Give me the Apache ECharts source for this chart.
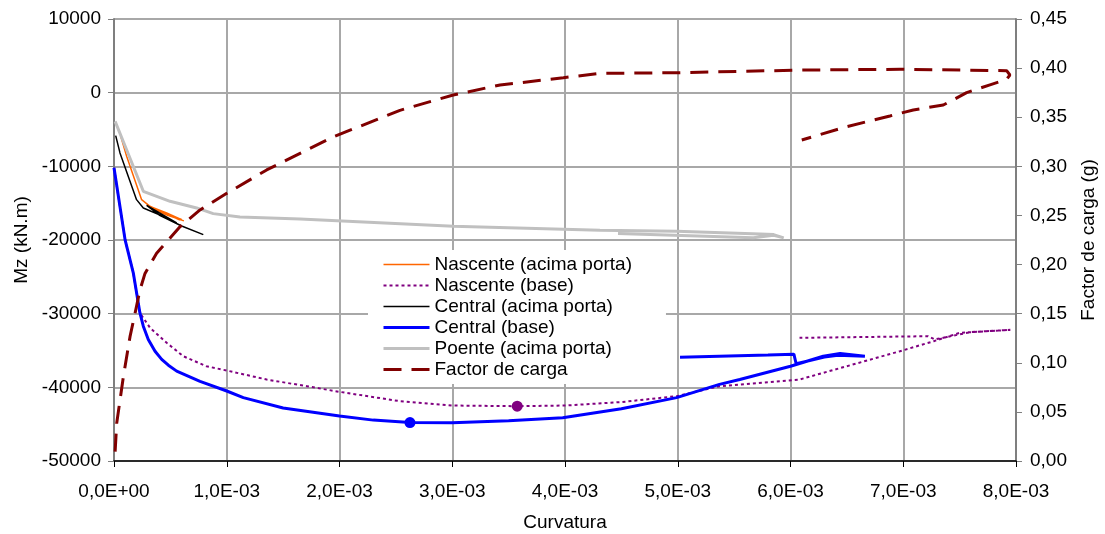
<!DOCTYPE html>
<html>
<head>
<meta charset="utf-8">
<script src="https://cdn.jsdelivr.net/npm/echarts@6/dist/echarts.min.js"></script>
<style>
  html, body { margin: 0; padding: 0; background: #fff; }
  #chart { width: 1105px; height: 534px; }
</style>
</head>
<body>
<div id="chart"></div>
<script>
// Tick labels
const xTickLabels = ['0,0E+00', '1,0E-03', '2,0E-03', '3,0E-03', '4,0E-03', '5,0E-03', '6,0E-03', '7,0E-03', '8,0E-03'];
const leftTickLabels = ['-50000', '-40000', '-30000', '-20000', '-10000', '0', '10000'];
const rightTickLabels = ['0,00', '0,05', '0,10', '0,15', '0,20', '0,25', '0,30', '0,35', '0,40', '0,45'];

// Curvatura / Mz pairs for each section
const nascenteAcima = [
  [0.06e-3, -5930], [0.112e-3, -8640], [0.245e-3, -14520], [0.319e-3, -15430],
  [0.467e-3, -16320], [0.60e-3, -17230], [0.58e-3, -17250], [0.51e-3, -16750],
  [0.29e-3, -15200], [0.33e-3, -15700], [0.47e-3, -16600], [0.62e-3, -17400]
];
const nascenteBase = [
  [0.0, -10200], [0.098e-3, -19950], [0.171e-3, -24460], [0.23e-3, -29900],
  [0.32e-3, -31930], [0.467e-3, -33960], [0.615e-3, -35780], [0.82e-3, -37140],
  [1.0e-3, -37720], [1.354e-3, -38940], [1.71e-3, -39850], [2.0e-3, -40610],
  [2.54e-3, -41890], [3.0e-3, -42470], [3.576e-3, -42560], [4.0e-3, -42470],
  [4.5e-3, -42000], [4.99e-3, -41200], [5.37e-3, -39850], [6.08e-3, -38940],
  [6.97e-3, -35100], [7.27e-3, -33740], [7.5e-3, -32600], [7.95e-3, -32200],
  [7.6e-3, -32500], [7.28e-3, -33500], [7.22e-3, -33060], [6.08e-3, -33280]
];
const centralAcima = [
  [0.015e-3, -5830], [0.053e-3, -8180], [0.20e-3, -14520], [0.26e-3, -15650],
  [0.467e-3, -17000], [0.556e-3, -17690], [0.40e-3, -16300], [0.29e-3, -15300],
  [0.40e-3, -16600], [0.60e-3, -18100], [0.792e-3, -19270]
];
const centralBase = [
  [0.0, -10200], [0.098e-3, -19950], [0.171e-3, -24460], [0.23e-3, -29900],
  [0.26e-3, -31700], [0.304e-3, -33500], [0.364e-3, -35100], [0.423e-3, -36200],
  [0.482e-3, -37000], [0.556e-3, -37800], [0.763e-3, -39200], [1.0e-3, -40500],
  [1.147e-3, -41400], [1.5e-3, -42800], [2.0e-3, -43900], [2.3e-3, -44450],
  [2.625e-3, -44780], [3.0e-3, -44800], [3.5e-3, -44550], [3.98e-3, -44140],
  [4.5e-3, -42900], [4.99e-3, -41400], [5.37e-3, -39600], [5.55e-3, -38940],
  [6.0e-3, -37140], [6.29e-3, -35780], [6.44e-3, -35420], [6.66e-3, -35780],
  [6.42e-3, -35650], [6.3e-3, -35900], [6.05e-3, -36800], [6.03e-3, -35500],
  [5.8e-3, -35620], [5.02e-3, -35900]
];
const poenteAcima = [
  [0.01e-3, -3894], [0.26e-3, -13390], [0.497e-3, -14750], [0.733e-3, -15650],
  [0.88e-3, -16420], [1.117e-3, -16870], [1.65e-3, -17140], [3.01e-3, -18140],
  [4.31e-3, -18680], [4.99e-3, -18820], [5.73e-3, -19170], [5.85e-3, -19270],
  [5.94e-3, -19710], [5.85e-3, -19350], [5.67e-3, -19700], [4.47e-3, -19130]
];
// Curvatura / load factor (g)
const factorCarga = [
  [0.01e-3, 0.0095], [0.024e-3, 0.0384], [0.083e-3, 0.0858], [0.142e-3, 0.1266],
  [0.186e-3, 0.150], [0.23e-3, 0.174], [0.275e-3, 0.191], [0.378e-3, 0.2115],
  [0.481e-3, 0.2248], [0.585e-3, 0.2385], [0.763e-3, 0.2556], [1.0e-3, 0.2725],
  [1.354e-3, 0.2963], [1.945e-3, 0.330], [2.536e-3, 0.357], [3.009e-3, 0.3726],
  [3.424e-3, 0.3828], [3.985e-3, 0.3902], [4.311e-3, 0.3947], [4.991e-3, 0.3953],
  [6.084e-3, 0.398], [6.971e-3, 0.3988], [7.917e-3, 0.3974], [7.946e-3, 0.393],
  [7.917e-3, 0.3886], [7.769e-3, 0.383], [7.562e-3, 0.375], [7.355e-3, 0.3624],
  [7.089e-3, 0.3574], [6.882e-3, 0.3513], [6.5e-3, 0.3404], [6.1e-3, 0.3268]
];
// Highlighted points
const centralBasePeak = [[2.625e-3, -44780]];
const nascenteBasePeak = [[3.576e-3, -42560]];

const FONT = 'Liberation Sans, Arial, sans-serif';
const FS = 19;

const chart = echarts.init(document.getElementById('chart'), null, { renderer: 'canvas' });

const lineSeries = (name, data, color, width, type, yAxisIndex) => ({
  name, type: 'line', data, yAxisIndex: yAxisIndex || 0,
  symbol: 'none', showSymbol: false, smooth: false, silent: true,
  lineStyle: { color, width, type: type || 'solid', cap: 'butt' },
  itemStyle: { color },
  z: 2
});

const legendItem = (name, width) => ({ name, lineStyle: { width } });

chart.setOption({
  animation: false,
  backgroundColor: '#ffffff',
  grid: {
    left: 114, right: 89, top: 19, bottom: 73,
    containLabel: false, outerBoundsMode: 'none'
  },
  legend: {
    orient: 'vertical',
    left: 368, top: 250,
    padding: [5, 34, 5, 14],
    backgroundColor: '#ffffff',
    itemWidth: 46, itemHeight: 14, itemGap: 2,
    itemStyle: { opacity: 0 },
    textStyle: { fontFamily: FONT, fontSize: FS, color: '#000', lineHeight: 19 },
    data: [
      legendItem('Nascente (acima porta)', 1.5),
      legendItem('Nascente (base)', 2),
      legendItem('Central (acima porta)', 1.5),
      legendItem('Central (base)', 3),
      legendItem('Poente (acima porta)', 3),
      legendItem('Factor de carga', 3)
    ]
  },
  xAxis: {
    type: 'value', min: 0, max: 8e-3, interval: 1e-3,
    name: 'Curvatura', nameLocation: 'middle', nameGap: 52,
    nameTextStyle: { fontFamily: FONT, fontSize: FS, color: '#000' },
    axisLine: { show: true, onZero: false, lineStyle: { color: '#000', width: 1.5 } },
    axisTick: { show: true, length: 6, lineStyle: { color: '#000', width: 1 } },
    axisLabel: {
      margin: 21, fontFamily: FONT, fontSize: FS, color: '#000',
      formatter: v => xTickLabels[Math.round(v / 1e-3)]
    },
    splitLine: { show: true, lineStyle: { color: '#a8a8a8', width: 2 } }
  },
  yAxis: [
    {
      type: 'value', min: -50000, max: 10000, interval: 10000, position: 'left',
      name: 'Mz (kN.m)', nameLocation: 'middle', nameGap: 81, nameRotate: 90,
      nameTextStyle: { fontFamily: FONT, fontSize: FS, color: '#000' },
      axisLine: { show: true, onZero: false, lineStyle: { color: '#7f7f7f', width: 2 } },
      axisTick: { show: true, length: 6, lineStyle: { color: '#7f7f7f', width: 1 } },
      axisLabel: {
        margin: 13, fontFamily: FONT, fontSize: FS, color: '#000',
        formatter: v => leftTickLabels[Math.round((v + 50000) / 10000)]
      },
      splitLine: { show: true, lineStyle: { color: '#a8a8a8', width: 2 } }
    },
    {
      type: 'value', min: 0, max: 0.45, interval: 0.05, position: 'right',
      name: 'Factor de carga (g)', nameLocation: 'middle', nameGap: 63, nameRotate: 90,
      nameTextStyle: { fontFamily: FONT, fontSize: FS, color: '#000' },
      axisLine: { show: true, onZero: false, lineStyle: { color: '#7f7f7f', width: 2 } },
      axisTick: { show: true, length: 6, lineStyle: { color: '#7f7f7f', width: 1 } },
      axisLabel: {
        margin: 14, fontFamily: FONT, fontSize: FS, color: '#000',
        formatter: v => rightTickLabels[Math.round(v / 0.05)]
      },
      splitLine: { show: false }
    }
  ],
  series: [
    lineSeries('Nascente (acima porta)', nascenteAcima, '#ff6600', 1.5),
    lineSeries('Nascente (base)', nascenteBase, '#800080', 2, [3, 3]),
    lineSeries('Central (acima porta)', centralAcima, '#000000', 1.5),
    lineSeries('Central (base)', centralBase, '#0000ff', 3),
    lineSeries('Poente (acima porta)', poenteAcima, '#c0c0c0', 3),
    lineSeries('Factor de carga', factorCarga, '#800000', 3, [18, 10], 1),
    {
      name: 'Central (base) máx', type: 'scatter', data: centralBasePeak,
      symbol: 'circle', symbolSize: 11, itemStyle: { color: '#0000ff', opacity: 1 }, z: 3, silent: true
    },
    {
      name: 'Nascente (base) máx', type: 'scatter', data: nascenteBasePeak,
      symbol: 'circle', symbolSize: 11, itemStyle: { color: '#800080', opacity: 1 }, z: 3, silent: true
    }
  ]
});
</script>
</body>
</html>
